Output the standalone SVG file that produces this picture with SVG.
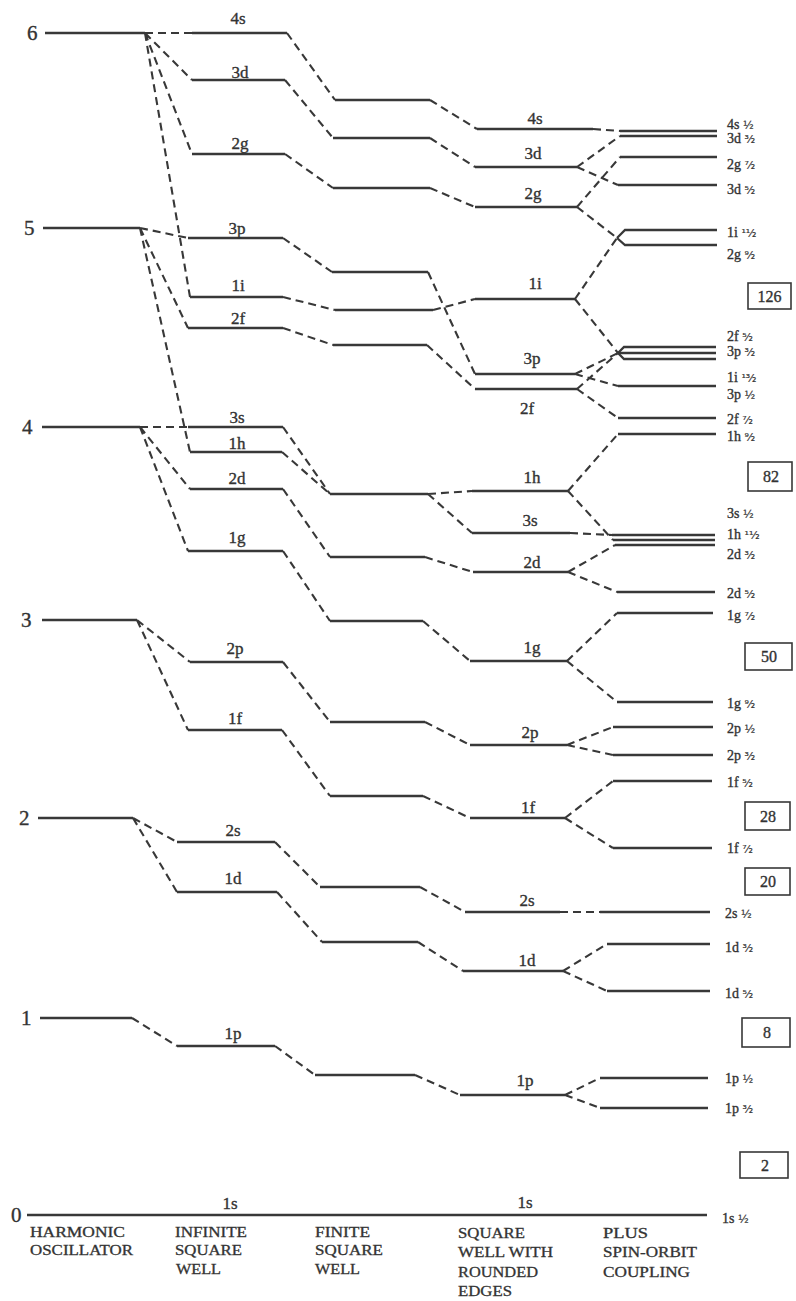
<svg xmlns="http://www.w3.org/2000/svg" width="796" height="1301" viewBox="0 0 796 1301">
<style>
.lv{fill:none;stroke:#383838;stroke-width:2.3}
.cn{fill:none;stroke:#383838;stroke-width:2.1;stroke-dasharray:8 5}
text{font-family:"Liberation Serif","DejaVu Serif",serif;fill:#333;stroke:#333;stroke-width:0.35}
.num{font-size:21px}
.lab{font-size:17px;text-anchor:middle}
.rl{font-size:14px}
.fr{font-size:11px;font-family:"DejaVu Sans","Liberation Sans",sans-serif;stroke-width:0.2}
.bx{fill:none;stroke:#383838;stroke-width:1.6}
.bt{font-size:16px;text-anchor:middle}
.cap{font-size:14px;stroke-width:0.3}
</style>
<rect width="796" height="1301" fill="#fff"/>

<g id="ho">
<g id="ho6"><path class="lv" d="M45,33H145"/><text class="num" x="27" y="40">6</text></g>
<g id="ho5"><path class="lv" d="M43,228H140"/><text class="num" x="24" y="235">5</text></g>
<g id="ho4"><path class="lv" d="M42,427H140"/><text class="num" x="22" y="434">4</text></g>
<g id="ho3"><path class="lv" d="M42,620H137"/><text class="num" x="21" y="627">3</text></g>
<g id="ho2"><path class="lv" d="M38,818H133"/><text class="num" x="19" y="825">2</text></g>
<g id="ho1"><path class="lv" d="M40,1018H132"/><text class="num" x="21" y="1025">1</text></g>
<g id="ho0"><path class="lv" d="M27,1215H707"/><text class="num" x="11" y="1222">0</text></g>
</g>

<g id="isw">
<g id="isw4s"><path class="lv" d="M192,33H287"/><text class="lab" x="238" y="24">4s</text></g>
<g id="isw3d"><path class="lv" d="M192,80H285"/><text class="lab" x="240" y="78">3d</text></g>
<g id="isw2g"><path class="lv" d="M192,154H285"/><text class="lab" x="240" y="149">2g</text></g>
<g id="isw3p"><path class="lv" d="M188,238H283"/><text class="lab" x="237" y="234">3p</text></g>
<g id="isw1i"><path class="lv" d="M190,297H283"/><text class="lab" x="238" y="291">1i</text></g>
<g id="isw2f"><path class="lv" d="M188,328H283"/><text class="lab" x="238" y="324">2f</text></g>
<g id="isw3s"><path class="lv" d="M188,427H283"/><text class="lab" x="237" y="423">3s</text></g>
<g id="isw1h"><path class="lv" d="M190,452H282"/><text class="lab" x="237" y="449">1h</text></g>
<g id="isw2d"><path class="lv" d="M190,489H283"/><text class="lab" x="237" y="484">2d</text></g>
<g id="isw1g"><path class="lv" d="M188,551H283"/><text class="lab" x="237" y="543">1g</text></g>
<g id="isw2p"><path class="lv" d="M190,662H283"/><text class="lab" x="235" y="654">2p</text></g>
<g id="isw1f"><path class="lv" d="M188,730H282"/><text class="lab" x="235" y="724">1f</text></g>
<g id="isw2s"><path class="lv" d="M177,842H275"/><text class="lab" x="233" y="836">2s</text></g>
<g id="isw1d"><path class="lv" d="M177,892H277"/><text class="lab" x="233" y="884">1d</text></g>
<g id="isw1p"><path class="lv" d="M177,1046H275"/><text class="lab" x="233" y="1039">1p</text></g>
<g id="isw1s"><text class="lab" x="230" y="1209">1s</text></g>
</g>

<g id="fsw">
<g id="fsw4s"><path class="lv" d="M335,100H430"/></g>
<g id="fsw3d"><path class="lv" d="M333,138H430"/></g>
<g id="fsw2g"><path class="lv" d="M333,188H430"/></g>
<g id="fsw3p"><path class="lv" d="M332,272H428"/></g>
<g id="fsw1i"><path class="lv" d="M335,310H433"/></g>
<g id="fsw2f"><path class="lv" d="M333,345H427"/></g>
<g id="fsw3s1h"><path class="lv" d="M330,494H428"/></g>
<g id="fsw2d"><path class="lv" d="M330,557H425"/></g>
<g id="fsw1g"><path class="lv" d="M330,621H423"/></g>
<g id="fsw2p"><path class="lv" d="M330,722H425"/></g>
<g id="fsw1f"><path class="lv" d="M330,796H423"/></g>
<g id="fsw2s"><path class="lv" d="M320,887H420"/></g>
<g id="fsw1d"><path class="lv" d="M322,942H418"/></g>
<g id="fsw1p"><path class="lv" d="M315,1075H415"/></g>
</g>

<g id="swre">
<g id="sw4s"><path class="lv" d="M477,129H593"/><text class="lab" x="535" y="124">4s</text></g>
<g id="sw3d"><path class="lv" d="M475,167H577"/><text class="lab" x="533" y="159">3d</text></g>
<g id="sw2g"><path class="lv" d="M475,207H577"/><text class="lab" x="533" y="199">2g</text></g>
<g id="sw1i"><path class="lv" d="M475,299H575"/><text class="lab" x="535" y="289">1i</text></g>
<g id="sw3p"><path class="lv" d="M475,374H575"/><text class="lab" x="532" y="364">3p</text></g>
<g id="sw2f"><path class="lv" d="M475,389H577"/><text class="lab" x="527" y="414">2f</text></g>
<g id="sw1h"><path class="lv" d="M472,491H568"/><text class="lab" x="532" y="483">1h</text></g>
<g id="sw3s"><path class="lv" d="M472,533H570"/><text class="lab" x="530" y="526">3s</text></g>
<g id="sw2d"><path class="lv" d="M473,572H568"/><text class="lab" x="532" y="568">2d</text></g>
<g id="sw1g"><path class="lv" d="M470,661H567"/><text class="lab" x="532" y="653">1g</text></g>
<g id="sw2p"><path class="lv" d="M470,745H567"/><text class="lab" x="530" y="738">2p</text></g>
<g id="sw1f"><path class="lv" d="M470,818H565"/><text class="lab" x="528" y="813">1f</text></g>
<g id="sw2s"><path class="lv" d="M465,912H560"/><text class="lab" x="527" y="906">2s</text></g>
<g id="sw1d"><path class="lv" d="M463,971H563"/><text class="lab" x="527" y="966">1d</text></g>
<g id="sw1p"><path class="lv" d="M460,1095H565"/><text class="lab" x="525" y="1086">1p</text></g>
<g id="sw1s"><text class="lab" x="525" y="1208">1s</text></g>
</g>

<g id="so">
<g id="so4s1"><path class="lv" d="M620,131H717"/><text class="rl" x="727" y="129">4s <tspan class="fr">½</tspan></text></g>
<g id="so3d3"><path class="lv" d="M620,136H717"/><text class="rl" x="727" y="143">3d <tspan class="fr">³⁄₂</tspan></text></g>
<g id="so2g7"><path class="lv" d="M620,157H717"/><text class="rl" x="727" y="169">2g <tspan class="fr">⁷⁄₂</tspan></text></g>
<g id="so3d5"><path class="lv" d="M618,185H717"/><text class="rl" x="727" y="194">3d <tspan class="fr">⁵⁄₂</tspan></text></g>
<g id="so1i11"><path class="lv" d="M617,238L625,230H717"/><text class="rl" x="727" y="237">1i <tspan class="fr">¹¹⁄₂</tspan></text></g>
<g id="so2g9"><path class="lv" d="M617,238L625,245H717"/><text class="rl" x="727" y="259">2g <tspan class="fr">⁹⁄₂</tspan></text></g>
<g id="so2f5"><path class="lv" d="M618,353L624,347H716"/><text class="rl" x="727" y="341">2f <tspan class="fr">⁵⁄₂</tspan></text></g>
<g id="so3p3"><path class="lv" d="M618,353H716"/><text class="rl" x="727" y="356">3p <tspan class="fr">³⁄₂</tspan></text></g>
<g id="so1i13"><path class="lv" d="M618,353L624,359H716"/><text class="rl" x="727" y="382">1i <tspan class="fr">¹³⁄₂</tspan></text></g>
<g id="so3p1"><path class="lv" d="M618,386H716"/><text class="rl" x="727" y="399">3p <tspan class="fr">½</tspan></text></g>
<g id="so2f7"><path class="lv" d="M618,418H716"/><text class="rl" x="727" y="424">2f <tspan class="fr">⁷⁄₂</tspan></text></g>
<g id="so1h9"><path class="lv" d="M618,434H716"/><text class="rl" x="727" y="441">1h <tspan class="fr">⁹⁄₂</tspan></text></g>
<g id="so3s1"><path class="lv" d="M612,535H715"/><text class="rl" x="727" y="518">3s <tspan class="fr">½</tspan></text></g>
<g id="so1h11"><path class="lv" d="M613,540H715"/><text class="rl" x="727" y="539">1h <tspan class="fr">¹¹⁄₂</tspan></text></g>
<g id="so2d3"><path class="lv" d="M615,545H715"/><text class="rl" x="727" y="559">2d <tspan class="fr">³⁄₂</tspan></text></g>
<g id="so2d5"><path class="lv" d="M617,592H715"/><text class="rl" x="727" y="598">2d <tspan class="fr">⁵⁄₂</tspan></text></g>
<g id="so1g7"><path class="lv" d="M617,613H713"/><text class="rl" x="727" y="620">1g <tspan class="fr">⁷⁄₂</tspan></text></g>
<g id="so1g9"><path class="lv" d="M617,702H713"/><text class="rl" x="727" y="708">1g <tspan class="fr">⁹⁄₂</tspan></text></g>
<g id="so2p1"><path class="lv" d="M613,727H713"/><text class="rl" x="727" y="733">2p <tspan class="fr">½</tspan></text></g>
<g id="so2p3"><path class="lv" d="M613,755H713"/><text class="rl" x="727" y="760">2p <tspan class="fr">³⁄₂</tspan></text></g>
<g id="so1f5"><path class="lv" d="M613,781H712"/><text class="rl" x="727" y="787">1f <tspan class="fr">⁵⁄₂</tspan></text></g>
<g id="so1f7"><path class="lv" d="M613,848H712"/><text class="rl" x="727" y="853">1f <tspan class="fr">⁷⁄₂</tspan></text></g>
<g id="so2s1"><path class="lv" d="M600,912H710"/><text class="rl" x="725" y="918">2s <tspan class="fr">½</tspan></text></g>
<g id="so1d3"><path class="lv" d="M607,944H710"/><text class="rl" x="725" y="952">1d <tspan class="fr">³⁄₂</tspan></text></g>
<g id="so1d5"><path class="lv" d="M607,991H710"/><text class="rl" x="725" y="998">1d <tspan class="fr">⁵⁄₂</tspan></text></g>
<g id="so1p1"><path class="lv" d="M600,1078H708"/><text class="rl" x="725" y="1083">1p <tspan class="fr">½</tspan></text></g>
<g id="so1p3"><path class="lv" d="M600,1108H708"/><text class="rl" x="725" y="1113">1p <tspan class="fr">³⁄₂</tspan></text></g>
<g id="so1s1"><text class="rl" x="722" y="1223">1s <tspan class="fr">½</tspan></text></g>
</g>

<g id="magic">
<g id="m126"><rect class="bx" x="748" y="283" width="43" height="26"/><text class="bt" x="769.5" y="302">126</text></g>
<g id="m82"><rect class="bx" x="748" y="462" width="44" height="29"/><text class="bt" x="771" y="482">82</text></g>
<g id="m50"><rect class="bx" x="745" y="643" width="47" height="27"/><text class="bt" x="769" y="662">50</text></g>
<g id="m28"><rect class="bx" x="745" y="802" width="45" height="28"/><text class="bt" x="768" y="822">28</text></g>
<g id="m20"><rect class="bx" x="745" y="868" width="45" height="27"/><text class="bt" x="768" y="887">20</text></g>
<g id="m8"><rect class="bx" x="742" y="1018" width="48" height="29"/><text class="bt" x="767" y="1038">8</text></g>
<g id="m2"><rect class="bx" x="740" y="1152" width="48" height="26"/><text class="bt" x="765" y="1171">2</text></g>
</g>

<g id="connectors">
<path class="cn" d="M145,33L192,33M145,33L192,80M145,33L192,154M145,33L190,297"/>
<path class="cn" d="M140,228L188,238M140,228L188,328M140,228L190,452"/>
<path class="cn" d="M140,427L188,427M140,427L190,489M140,427L188,551"/>
<path class="cn" d="M137,620L190,662M137,620L188,730"/>
<path class="cn" d="M133,818L177,842M133,818L177,892"/>
<path class="cn" d="M132,1018L177,1046"/>

<path class="cn" d="M287,33L335,100M285,80L333,138M285,154L333,188M283,238L332,272M283,297L335,310M283,328L333,345"/>
<path class="cn" d="M283,427L330,494M282,452L330,494M283,489L330,557M283,551L330,621M283,662L330,722M282,730L330,796"/>
<path class="cn" d="M275,842L320,887M277,892L322,942M275,1046L315,1075"/>

<path class="cn" d="M430,100L477,129M430,138L475,167M430,188L475,207M428,272L475,374M433,310L475,299M427,345L475,389"/>
<path class="cn" d="M428,494L472,491M428,494L472,533M425,557L473,572M423,621L470,661M425,722L470,745M423,796L470,818"/>
<path class="cn" d="M420,887L465,912M418,942L463,971M415,1075L460,1095"/>

<path class="cn" d="M593,129L620,131M577,167L620,136M577,167L618,185M577,207L620,157M577,207L617,238"/>
<path class="cn" d="M575,299L617,238M575,299L618,353M575,374L618,353M575,374L618,386M577,389L618,353M577,389L618,418"/>
<path class="cn" d="M568,491L618,434M568,491L613,540M570,533L612,535M568,572L615,545M568,572L617,592"/>
<path class="cn" d="M567,661L617,613M567,661L617,702M567,745L613,727M567,745L613,755M565,818L613,781M565,818L613,848"/>
<path class="cn" d="M560,912L600,912M563,971L607,944M563,971L607,991M565,1095L600,1078M565,1095L600,1108"/>
</g>

<g id="captions">
<text class="cap" x="30" y="1237" textLength="95" lengthAdjust="spacingAndGlyphs">HARMONIC</text>
<text class="cap" x="30" y="1255" textLength="103" lengthAdjust="spacingAndGlyphs">OSCILLATOR</text>
<text class="cap" x="175" y="1237" textLength="72" lengthAdjust="spacingAndGlyphs">INFINITE</text>
<text class="cap" x="175" y="1255" textLength="67" lengthAdjust="spacingAndGlyphs">SQUARE</text>
<text class="cap" x="176" y="1274" textLength="45" lengthAdjust="spacingAndGlyphs">WELL</text>
<text class="cap" x="315" y="1237" textLength="55" lengthAdjust="spacingAndGlyphs">FINITE</text>
<text class="cap" x="315" y="1255" textLength="68" lengthAdjust="spacingAndGlyphs">SQUARE</text>
<text class="cap" x="315" y="1274" textLength="45" lengthAdjust="spacingAndGlyphs">WELL</text>
<text class="cap" x="458" y="1238" textLength="67" lengthAdjust="spacingAndGlyphs">SQUARE</text>
<text class="cap" x="458" y="1257" textLength="95" lengthAdjust="spacingAndGlyphs">WELL WITH</text>
<text class="cap" x="458" y="1277" textLength="80" lengthAdjust="spacingAndGlyphs">ROUNDED</text>
<text class="cap" x="458" y="1296" textLength="54" lengthAdjust="spacingAndGlyphs">EDGES</text>
<text class="cap" x="603" y="1238" textLength="45" lengthAdjust="spacingAndGlyphs">PLUS</text>
<text class="cap" x="603" y="1257" textLength="94" lengthAdjust="spacingAndGlyphs">SPIN-ORBIT</text>
<text class="cap" x="603" y="1277" textLength="87" lengthAdjust="spacingAndGlyphs">COUPLING</text>
</g>
</svg>
